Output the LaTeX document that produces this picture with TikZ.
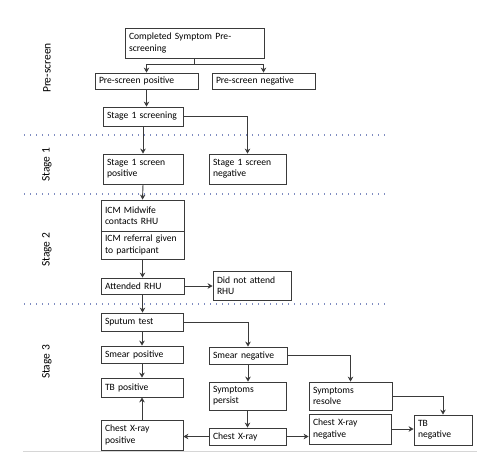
\documentclass[tikz,border=0pt]{standalone}
\usepackage{fontspec}
\setmainfont{Carlito}
\usetikzlibrary{arrows.meta}
\definecolor{boxline}{HTML}{3A3A3A}
\definecolor{stagedots}{HTML}{7F8CC0}
\definecolor{floorline}{HTML}{D6D6D6}
\tikzset{box/.style = {draw = boxline, line width = 0.8pt, align = left, inner xsep = 4pt, inner ysep = 0pt, font = \fontsize{9.6}{11.3}\selectfont}}
\tikzset{arr/.style = {draw = boxline, line width = 0.9pt, -{Stealth[length = 5pt, width = 5.5pt]}}}
\tikzset{stage/.style = {rotate = 90, font = \fontsize{11.5}{13}\selectfont}}
\tikzset{divider/.style = {stagedots, line width = 1.3pt, dash pattern = on 1.3pt off 4.7pt}}

\begin{document}
\begin{tikzpicture}[x=1pt, y=-1pt]
      \useasboundingbox (0, 0) rectangle (500, 474);

      \node [box, text width = 131pt, minimum height = 30pt] at (194.5, 43) (comp) {Completed Symptom Pre-\\screening};
      \node [box, text width = 95pt, minimum height = 16pt] at (146.5, 81) (prepos) {Pre-screen positive};
      \node [box, text width = 95pt, minimum height = 16pt] at (263.5, 81) (preneg) {Pre-screen negative};
      \node [box, text width = 72pt, minimum height = 19pt] at (143, 116.5) (scrone) {Stage 1 screening};
      \node [box, text width = 72pt, minimum height = 30pt] at (143, 169) (onepos) {Stage 1 screen\\positive};
      \node [box, text width = 69pt, minimum height = 30pt] at (247.5, 169) (oneneg) {Stage 1 screen\\negative};

      \node [box, text width = 75pt, minimum height = 31pt] at (142.5, 215.5) (midwife) {ICM Midwife\\contacts RHU};
      \node [box, text width = 75pt, minimum height = 28pt] at (142.5, 245) (referral) {ICM referral given\\to participant};
      \node [box, text width = 75pt, minimum height = 16pt] at (142.5, 286) (attended) {Attended RHU};
      \node [box, text width = 70pt, minimum height = 29pt] at (252, 285.5) (notattended) {Did not attend\\RHU};

      \node [box, text width = 74pt, minimum height = 18pt] at (142, 322) (sputum) {Sputum test};
      \node [box, text width = 74pt, minimum height = 17pt] at (142, 354.5) (smearpos) {Smear positive};
      \node [box, text width = 74pt, minimum height = 19pt] at (142, 387.5) (tbpos) {TB positive};
      \node [box, text width = 74pt, minimum height = 30pt] at (142, 435) (xraypos) {Chest X-ray\\positive};
      \node [box, text width = 70pt, minimum height = 17pt] at (248, 355.5) (smearneg) {Smear negative};
      \node [box, text width = 69pt, minimum height = 28pt] at (247.5, 396) (persist) {Symptoms\\persist};
      \node [box, text width = 75pt, minimum height = 28pt] at (350.5, 396) (resolve) {Symptoms\\resolve};
      \node [box, text width = 69pt, minimum height = 17pt] at (247.5, 436.5) (xray) {Chest X-ray};
      \node [box, text width = 74pt, minimum height = 30pt] at (350, 429) (xrayneg) {Chest X-ray\\negative};
      \node [box, text width = 50pt, minimum height = 30pt] at (443, 430) (tbneg) {TB\\negative};

      \node [stage] at (47, 68) (lblpre) {Pre-screen};
      \node [stage] at (47, 165) (lblone) {Stage 1};
      \node [stage] at (47, 250) (lbltwo) {Stage 2};
      \node [stage] at (47, 362) (lblthree) {Stage 3};

      \draw [divider] (24, 135) -- (388, 135);
      \draw [divider] (24, 194) -- (388, 194);
      \draw [divider] (24, 304) -- (388, 304);
      \draw [floorline, line width = 0.8pt] (23, 451) -- (477, 451);

      \draw [draw = boxline, line width = 0.9pt] (comp.south) -- ++(0, 6) coordinate (fork);
      \draw [arr] (fork) -| (prepos.north);
      \draw [arr] (fork) -| (preneg.north);
      \draw [arr] (prepos.south) -- (prepos.south |- scrone.north);
      \draw [arr] (scrone.south) -- (onepos.north);
      \draw [arr] (scrone.east) -| (oneneg.north);
      \draw [arr] (onepos.south) -- (midwife.north);
      \draw [arr] (referral.south) -- (attended.north);
      \draw [arr] (attended.east) -- (attended.east -| notattended.west);
      \draw [arr] (attended.south) -- (attended.south |- sputum.north);

      \draw [arr] (sputum.south) -- (smearpos.north);
      \draw [arr] (sputum.east) -| (smearneg.north);
      \draw [arr] (smearpos.south) -- (tbpos.north);
      \draw [arr] (xraypos.north) -- (tbpos.south);
      \draw [arr] (smearneg.south) -- (smearneg.south |- persist.north);
      \draw [arr] (smearneg.east) -| (resolve.north);
      \draw [arr] (persist.south) -- (xray.north);
      \draw [arr] (xray.west) -- (xray.west -| xraypos.east);
      \draw [arr] (xray.east) -- (xray.east -| xrayneg.west);
      \draw [arr] (xrayneg.east) -- (xrayneg.east -| tbneg.west);
      \draw [arr] (resolve.east) -| (tbneg.north);
    \end{tikzpicture}
\end{document}
